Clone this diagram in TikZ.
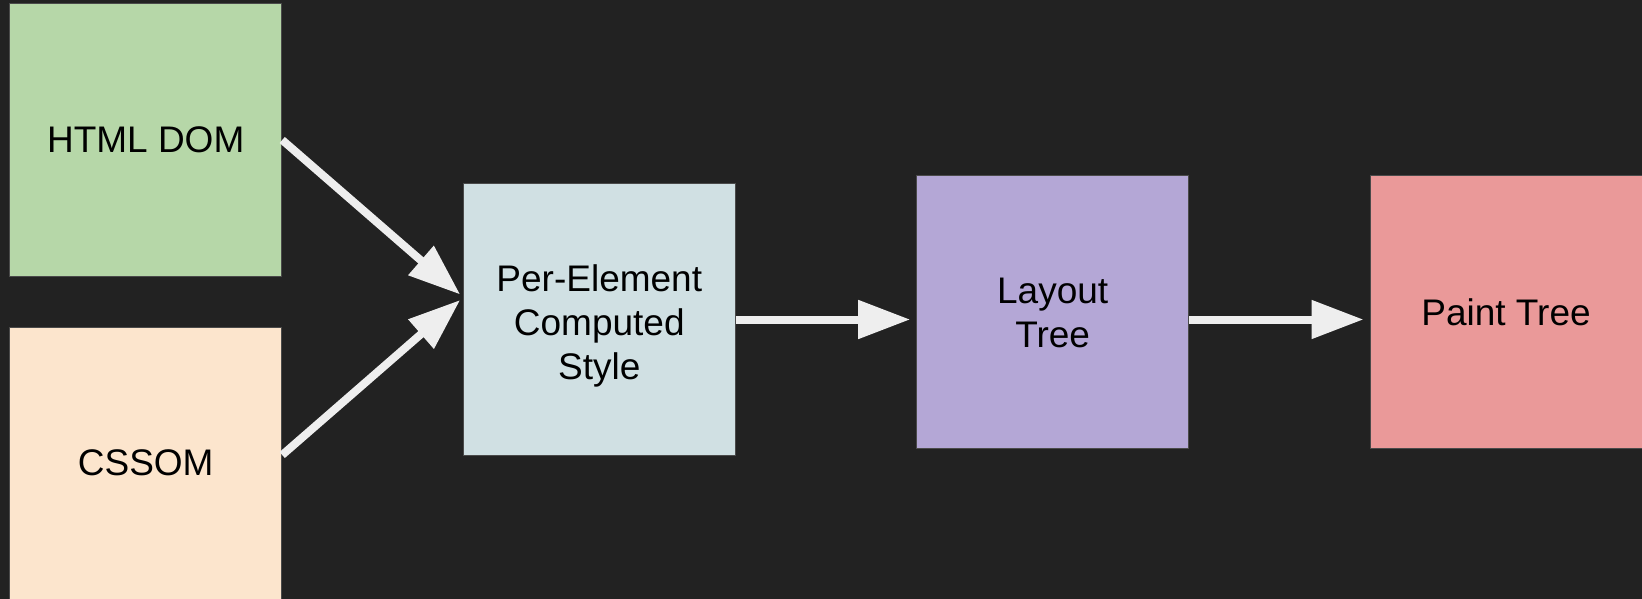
\documentclass[tikz,border=0pt]{standalone}
\usepackage{fontspec}
\setmainfont{Liberation Sans}
\usetikzlibrary{arrows.meta,calc}
\definecolor{bgc}{HTML}{222222}
\definecolor{bordc}{HTML}{4A4A4A}
\definecolor{arrc}{HTML}{EEEEEE}
\definecolor{cgreen}{HTML}{B6D7A8}
\definecolor{cpeach}{HTML}{FCE5CD}
\definecolor{cblue}{HTML}{D0E0E3}
\definecolor{cpurple}{HTML}{B4A7D6}
\definecolor{cpink}{HTML}{EA9999}
\newcommand{\mylines}[2]{\raisebox{#1}[\height][\depth]{\begin{tabular}{@{}c@{}}#2\end{tabular}}}
\begin{document}
\begin{tikzpicture}[x=1pt,y=-1pt,
  box/.style={rectangle,draw=bordc,line width=1pt,minimum width=272pt,minimum height=272pt,inner sep=0pt,
    align=center,text=black,font=\fontsize{37}{44}\selectfont},
  flow/.style={draw=arrc,line width=8pt,-{Triangle[length=52pt,width=37pt,fill=arrc]}}]
\fill[bgc] (0,0) rectangle (1642,599);
\useasboundingbox (0,0) rectangle (1642,599);
\node[box,fill=cgreen] (html) at (145.7,140) {HTML DOM};
\node[box,fill=cpeach] (css) at (145.7,463) {CSSOM};
\node[box,fill=cblue] (pe) at (599.3,319.5) {\mylines{-7.5pt}{Per-Element\\Computed\\Style}};
\node[box,fill=cpurple] (lay) at (1052.7,312) {\mylines{-5pt}{Layout\\Tree}};
\node[box,fill=cpink] (paint) at (1506,312) {Paint Tree};
\draw[flow] (html.east) -- ($(pe.west)+(-2.6,-25)$);
\draw[flow] ($(css.east)+(0,-8)$) -- ($(pe.west)+(-2.6,-19.5)$);
\draw[flow] (pe.east) -- ($(lay.west |- pe.east)+(-6,0)$);
\draw[flow] (lay.east |- pe.east) -- ($(paint.west |- pe.east)+(-6,0)$);
\end{tikzpicture}
\end{document}
